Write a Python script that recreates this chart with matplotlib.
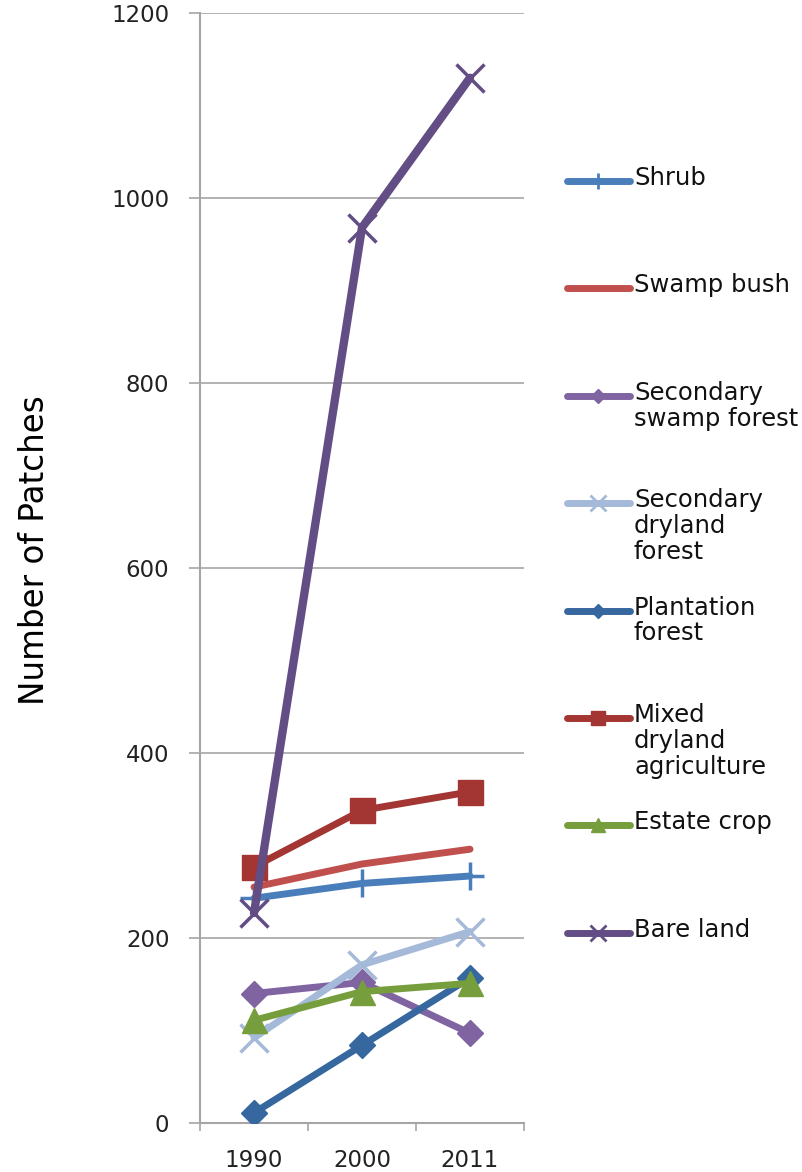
import matplotlib
matplotlib.use('Agg')
import matplotlib.pyplot as plt
from matplotlib.lines import Line2D

# Patch counts per land cover class
years = ['1990', '2000', '2011']
shrub = [243, 259, 267]
swamp_bush = [255, 280, 296]
secondary_swamp_forest = [140, 152, 97]
secondary_dryland_forest = [92, 171, 207]
plantation_forest = [11, 84, 157]
mixed_dryland_agriculture = [277, 338, 358]
estate_crop = [111, 142, 151]
bare_land = [227, 968, 1130]

series = [
    ('Shrub', shrub, '#4A7EBB', '+', 20, 5),
    ('Swamp bush', swamp_bush, '#C0504D', None, 0, 5),
    ('Secondary\nswamp forest', secondary_swamp_forest, '#8064A2', 'D', 13, 5),
    ('Secondary\ndryland\nforest', secondary_dryland_forest, '#A5B9D9', 'x', 20, 5),
    ('Plantation\nforest', plantation_forest, '#36679F', 'D', 13, 5),
    ('Mixed\ndryland\nagriculture', mixed_dryland_agriculture, '#A33532', 's', 18, 5),
    ('Estate crop', estate_crop, '#779E3D', '^', 18, 5),
    ('Bare land', bare_land, '#624D84', 'x', 20, 6),
]

W, H = 803, 1172
fig = plt.figure(figsize=(W / 100, H / 100), dpi=100)
ax = fig.add_axes([200 / W, 49 / H, 324 / W, 1110 / H])

x = list(range(len(years)))
for i, (name, vals, color, marker, ms, lw) in enumerate(series):
    mew = 2.5 if marker in ('x', '+') else 1
    ax.plot(x, vals, color=color, lw=lw, marker=marker, ms=ms,
            mec=color, mfc=color, mew=mew, solid_capstyle='round',
            solid_joinstyle='round', zorder=3 + i)

grid_c = '#A6A6A6'
ax.set_ylim(0, 1200)
ax.set_xlim(-0.5, 2.5)
ax.set_yticks(range(0, 1201, 200))
ax.yaxis.grid(True, color=grid_c, lw=1.2)
ax.set_axisbelow(True)
for s in ['top', 'right']:
    ax.spines[s].set_visible(False)
for s in ['left', 'bottom']:
    ax.spines[s].set_color(grid_c)
    ax.spines[s].set_linewidth(1.5)

ax.tick_params(axis='y', direction='out', length=8, width=1.2, color=grid_c,
               pad=14, labelsize=16.5, labelcolor='#222222')
ax.set_xticks(x)
ax.set_xticklabels(years)
ax.set_xticks([-0.5, 0.5, 1.5, 2.5], minor=True)
ax.tick_params(axis='x', which='major', length=0, pad=19, labelsize=16.5,
               labelcolor='#222222')
ax.tick_params(axis='x', which='minor', direction='out', length=6, width=1.2,
               color=grid_c)

fig.text(35 / W, 1 - 550 / H, 'Number of Patches', rotation=90,
         ha='center', va='center', fontsize=23.5, family='DejaVu Sans')

# legend drawn as a column on the right
leg_top = 181
leg_step = 107.4
for i, (name, vals, color, marker, ms, lw) in enumerate(series):
    yc = 1 - (leg_top + leg_step * i) / H
    fig.add_artist(Line2D([567 / W, 630 / W], [yc, yc], color=color, lw=5,
                          solid_capstyle='round', transform=fig.transFigure))
    if marker is not None:
        mew = 2 if marker in ('x', '+') else 1
        fig.add_artist(Line2D([598.5 / W], [yc], marker=marker, ms=ms * 0.55,
                              color=color, mec=color, mew=mew, lw=0,
                              transform=fig.transFigure))
    fig.text(634 / W, yc + 15 / H, name, ha='left', va='top', fontsize=17.5,
             linespacing=1.1, color='#111111')

fig.savefig('out.png', dpi=100)
